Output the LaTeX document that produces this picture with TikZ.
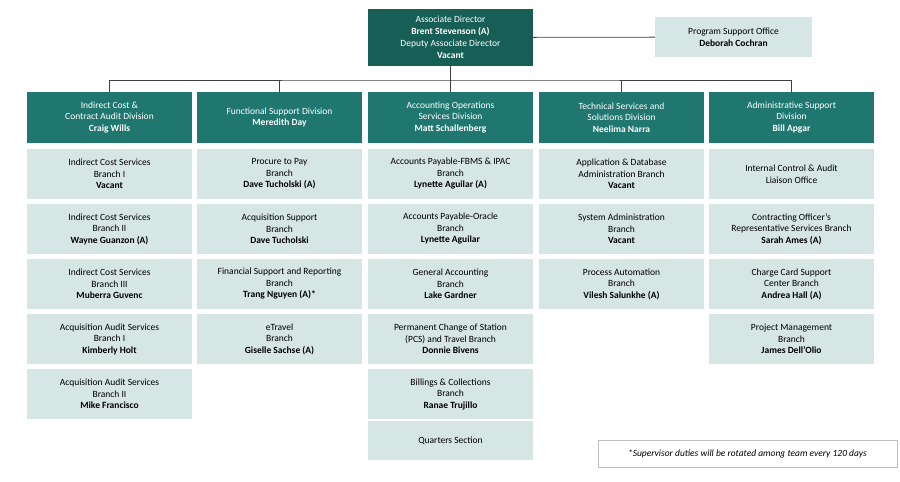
\documentclass[tikz,border=0pt]{standalone}
\usepackage{fontspec}
\setmainfont{Carlito}
\usetikzlibrary{positioning}
\definecolor{topteal}{HTML}{165E56}
\definecolor{divteal}{HTML}{1F7770}
\definecolor{paleteal}{HTML}{D6E6E4}
\begin{document}
\begin{tikzpicture}[x=1pt,y=-1pt,font=\fontsize{9.5}{11.5}\selectfont,
chief/.style={rectangle,minimum width=165pt,minimum height=57pt,fill=topteal,text=white,align=center,inner sep=1pt},
division/.style={rectangle,minimum width=165pt,minimum height=51pt,fill=divteal,text=white,align=center,inner sep=1pt},
branch/.style={rectangle,minimum width=165pt,minimum height=50pt,fill=paleteal,align=center,inner sep=1pt},
]
\useasboundingbox (0,0) rectangle (900,482);
\node[chief] (ad) at (450.5,37.5) {Associate Director\\\textbf{Brent Stevenson (A)}\\[1pt]Deputy Associate Director\\\textbf{Vacant}};
\node[branch, minimum width=157pt, minimum height=40pt] (pso) at (733.5,37) {Program Support Office\\\textbf{Deborah Cochran}};
% divisions
\node[division] (icd) at (109.5,117.5) {Indirect Cost \&\\Contract Audit Division\\\textbf{Craig Wills}};
\node[division] (fsd) at (279.5,117.5) {Functional Support Division\\\textbf{Meredith Day}};
\node[division] (aod) at (450.5,117.5) {Accounting Operations\\Services Division\\\textbf{Matt Schallenberg}};
\node[division] (tsd) at (621.5,117.5) {Technical Services and\\Solutions Division\\\textbf{Neelima Narra}};
\node[division] (asd) at (791.5,117.5) {Administrative Support\\Division\\\textbf{Bill Apgar}};
% branches
\node[branch] (icd1) at (109.5,174) {Indirect Cost Services\\Branch I\\\textbf{Vacant}};
\node[branch] (icd2) at (109.5,229) {Indirect Cost Services\\Branch II\\\textbf{Wayne Guanzon (A)}};
\node[branch] (icd3) at (109.5,284) {Indirect Cost Services\\Branch III\\\textbf{Muberra Guvenc}};
\node[branch] (icd4) at (109.5,339) {Acquisition Audit Services\\Branch I\\\textbf{Kimberly Holt}};
\node[branch] (icd5) at (109.5,394) {Acquisition Audit Services\\Branch II\\\textbf{Mike Francisco}};
\node[branch] (fsd1) at (279.5,174) {Procure to Pay\\Branch\\\textbf{Dave Tucholski (A)}};
\node[branch] (fsd2) at (279.5,229) {Acquisition Support\\Branch\\\textbf{Dave Tucholski}};
\node[branch] (fsd3) at (279.5,284) {Financial Support and Reporting\\Branch\\\textbf{Trang Nguyen (A)*}};
\node[branch] (fsd4) at (279.5,339) {eTravel\\Branch\\\textbf{Giselle Sachse (A)}};
\node[branch] (aod1) at (450.5,174) {Accounts Payable-FBMS \& IPAC\\Branch\\\textbf{Lynette Aguilar (A)}};
\node[branch] (aod2) at (450.5,229) {Accounts Payable-Oracle\\Branch\\\textbf{Lynette Aguilar}};
\node[branch] (aod3) at (450.5,284) {General Accounting\\Branch\\\textbf{Lake Gardner}};
\node[branch] (aod4) at (450.5,339) {Permanent Change of Station\\(PCS) and Travel Branch\\\textbf{Donnie Bivens}};
\node[branch] (aod5) at (450.5,394) {Billings \& Collections\\Branch\\\textbf{Ranae Trujillo}};
\node[branch, minimum height=39pt] (aod6) at (450.5,440.5) {Quarters Section};
\node[branch] (tsd1) at (621.5,174) {Application \& Database\\Administration Branch\\\textbf{Vacant}};
\node[branch] (tsd2) at (621.5,229) {System Administration\\Branch\\\textbf{Vacant}};
\node[branch] (tsd3) at (621.5,284) {Process Automation\\Branch\\\textbf{Vilesh Salunkhe (A)}};
\node[branch] (asd1) at (791.5,174) {Internal Control \& Audit\\Liaison Office};
\node[branch] (asd2) at (791.5,229) {Contracting Officer’s\\Representative Services Branch\\\textbf{Sarah Ames (A)}};
\node[branch] (asd3) at (791.5,284) {Charge Card Support\\Center Branch\\\textbf{Andrea Hall (A)}};
\node[branch] (asd4) at (791.5,339) {Project Management\\Branch\\\textbf{James Dell’Olio}};
\node[draw=black!25, minimum width=299pt, minimum height=27pt] (note) at (747.5,453.5) {\textit{*Supervisor duties will be rotated among team every 120 days}};
\coordinate (bus) at (450.5,80);
\begin{scope}[black!75, thick]
 \draw (ad)--(pso);
 \draw (ad)--(bus);
 \draw (icd.north)|-(bus)-|(asd.north);
 \draw (fsd.north)--(fsd.north|-bus);
 \draw (aod.north)--(bus);
 \draw (tsd.north)--(tsd.north|-bus);
\end{scope}
\end{tikzpicture}
\end{document}
